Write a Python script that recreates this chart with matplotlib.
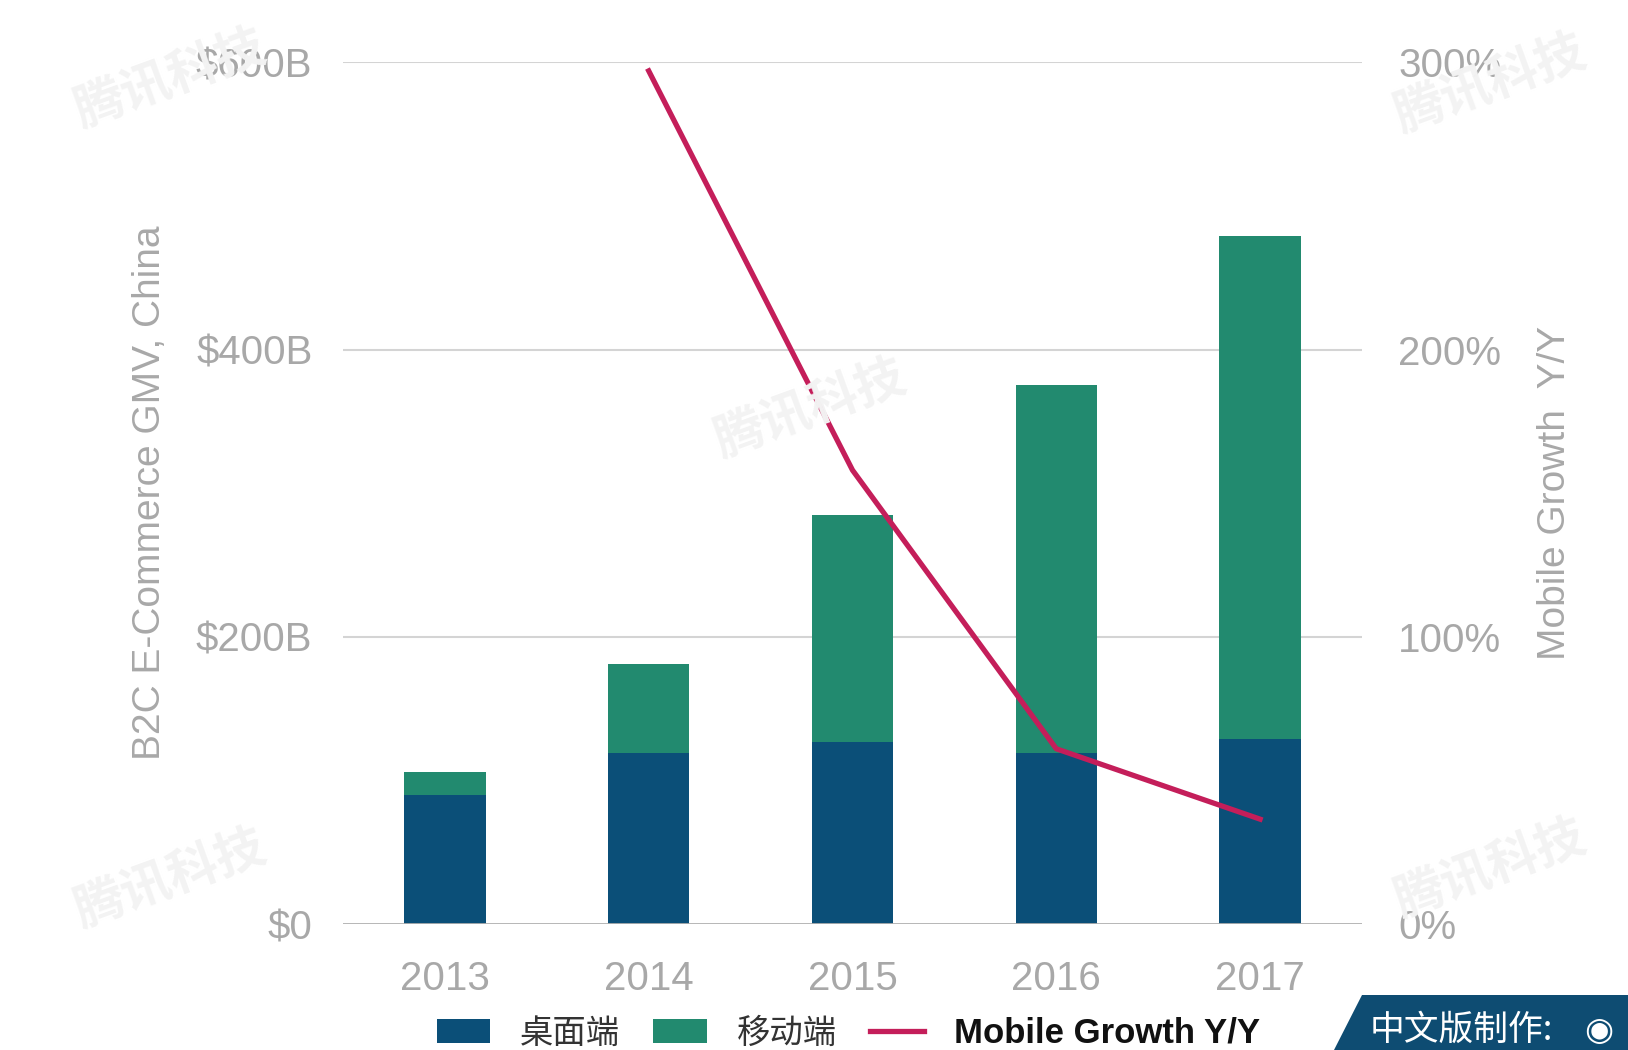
import matplotlib
matplotlib.use("Agg")
import matplotlib.pyplot as plt
from matplotlib.patches import Polygon, Patch
from matplotlib.lines import Line2D

plt.rcParams['font.family'] = ['Liberation Sans', 'Noto Sans CJK SC', 'DejaVu Sans']

years = ["2013", "2014", "2015", "2016", "2017"]
desktop = [90, 119, 127, 119, 129]
mobile = [16, 62, 158, 256, 350]
growth_years = ["2014", "2015", "2016", "2017"]
growth = [297, 158, 61, 36.5]
left_ticks = [0, 200, 400, 600]
left_labels = ["$0", "$200B", "$400B", "$600B"]
right_ticks = [0, 100, 200, 300]
right_labels = ["0%", "100%", "200%", "300%"]

C_DESK = "#0b4f78"
C_MOB = "#228a6f"
C_LINE = "#c41e5a"
C_TXT = "#a8a8a8"

fig = plt.figure(figsize=(16.28, 10.5), dpi=100)
ax = fig.add_axes([0.2107, 0.12, 0.6259, 0.8207])
x = list(range(len(years)))
ax.bar(x, desktop, width=0.4, color=C_DESK, zorder=3)
ax.bar(x, mobile, width=0.4, bottom=desktop, color=C_MOB, zorder=3)
ax.set_xlim(-0.5, 4.5)
ax.set_ylim(0, 600)
ax.set_yticks(left_ticks)
ax.set_yticklabels(left_labels)
ax.set_xticks(x)
ax.set_xticklabels(years)
for t in left_ticks[1:]:
    ax.axhline(t, color="#d4d4d4", lw=1.5, zorder=1)
ax.axhline(0, color="#b0b0b0", lw=2, zorder=4)
for s in ax.spines.values():
    s.set_visible(False)
ax.tick_params(axis='both', length=0, colors=C_TXT, labelsize=29)
ax.tick_params(axis='y', pad=22)
ax.tick_params(axis='x', pad=26)
ax.set_ylabel("B2C E-Commerce GMV, China", fontsize=28, color=C_TXT, labelpad=20)

ax2 = ax.twinx()
ax2.set_ylim(0, 300)
ax2.set_yticks(right_ticks)
ax2.set_yticklabels(right_labels)
gx = [years.index(y) for y in growth_years]
ax2.plot(gx, growth, color=C_LINE, lw=3.8, zorder=5)
for s in ax2.spines.values():
    s.set_visible(False)
ax2.tick_params(axis='y', length=0, colors=C_TXT, labelsize=29, pad=26)
ax2.set_ylabel("Mobile Growth  Y/Y", fontsize=28, color=C_TXT, labelpad=26)

# legend
handles = [Patch(facecolor=C_DESK), Patch(facecolor=C_MOB),
           Line2D([0], [0], color=C_LINE, lw=3.8)]
leg = fig.legend(handles, ["桌面端", "移动端", "Mobile Growth Y/Y"],
                 loc="center", bbox_to_anchor=(0.521, 0.016), ncol=3, frameon=False,
                 fontsize=24, handlelength=1.6, handleheight=0.7, columnspacing=1.0,
                 handletextpad=0.9)
texts = leg.get_texts()
for t in texts[:2]:
    t.set_color("#333333")
    t.set_family(['Noto Sans CJK SC', 'DejaVu Sans'])
texts[2].set_fontweight("bold")
texts[2].set_color("#111111")
texts[2].set_fontsize(25)

# badge bottom right
W, H = 1628, 1050
poly = Polygon([(1334 / W, 0), (1628 / W, 0), (1628 / W, 55 / H), (1362 / W, 55 / H)],
               closed=True, transform=fig.transFigure, facecolor="#0e4c72",
               edgecolor="none", zorder=10)
fig.patches.append(poly)
fig.text(1370 / W, 20 / H, "中文版制作:", color="white", fontsize=25, style="italic",
         family=['Noto Sans CJK SC', 'DejaVu Sans'], va="center", ha="left", zorder=11)
fig.text(1599 / W, 20 / H, "◉", color="white", fontsize=24, va="center", ha="center",
         family=['DejaVu Sans'], zorder=11)

# faint watermarks
wm_kw = dict(color="#f3f3f3", fontsize=36, rotation=20, family=['Noto Sans CJK SC', 'DejaVu Sans'],
             ha="center", va="center", zorder=0, fontweight="bold")
for (wx, wy) in [(170, 880), (1490, 870), (810, 410), (170, 80), (1490, 85)]:
    fig.text(wx / W, 1 - wy / H, "腾讯科技", **wm_kw)

fig.savefig("out.png", dpi=100)
